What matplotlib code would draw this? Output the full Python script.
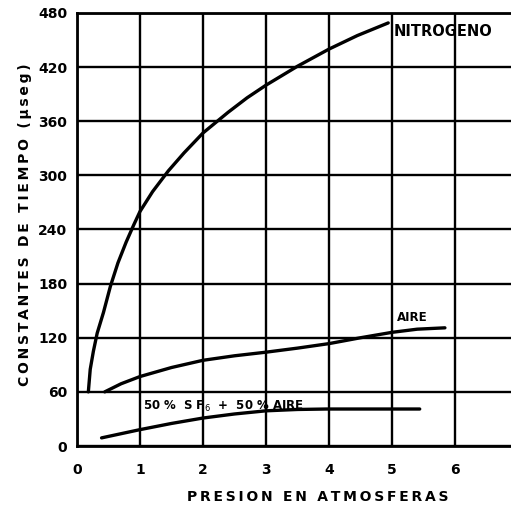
import matplotlib.pyplot as plt

# valores (presion en atm, constante de tiempo)
nitrogeno_x = [0.18, 0.21, 0.26, 0.32, 0.42, 0.53, 0.65, 0.78, 0.9, 1.0, 1.2, 1.45, 1.7, 2.0, 2.4, 2.7, 3.0, 3.5, 4.0, 4.45, 4.94]
nitrogeno_y = [60, 85, 105, 125, 148, 177, 203, 226, 245, 260, 282, 305, 325, 347, 370, 386, 400, 421, 440, 455, 469]

aire_x = [0.44, 0.7, 1.0, 1.5, 2.0, 2.5, 3.0, 3.5, 4.0, 4.5, 5.0, 5.4, 5.84]
aire_y = [60, 69, 77, 87, 95, 100, 104, 108.5, 113.5, 120, 126, 129.5, 131]

mezcla_x = [0.39, 0.99, 1.5, 2.0, 2.5, 3.0, 3.5, 3.96, 4.98, 5.44]
mezcla_y = [9, 18, 25, 31, 35.5, 39, 40.5, 41, 41, 41]

xticks = [0, 1, 2, 3, 4, 5, 6]
yticks = [0, 60, 120, 180, 240, 300, 360, 420, 480]
ytick_labels = ['0', '60', '120', '180', '240', '300', '360', '420', '480']

fig = plt.figure(figsize=(5.11, 5.11), dpi=100)
ax = fig.add_axes([77 / 511, 65 / 511, 434 / 511, 433 / 511])

ax.set_xlim(0, 434 / 63)
ax.set_ylim(0, 480)
ax.set_xticks(xticks)
ax.set_yticks(yticks)
ax.set_yticklabels(ytick_labels)
ax.grid(True, color='black', linewidth=1.7)
ax.tick_params(length=0, labelsize=10)
ax.tick_params(axis='y', pad=7)
ax.tick_params(axis='x', pad=12)
for lbl in ax.get_xticklabels() + ax.get_yticklabels():
    lbl.set_fontweight('bold')
for s in ax.spines.values():
    s.set_linewidth(2)
ax.spines['right'].set_visible(False)

ax.plot(nitrogeno_x, nitrogeno_y, color='black', linewidth=2.4, solid_capstyle='round')
ax.plot(aire_x, aire_y, color='black', linewidth=2.4, solid_capstyle='round')
ax.plot(mezcla_x, mezcla_y, color='black', linewidth=2.4, solid_capstyle='round')

ax.text(5.02, 459, 'NITROGENO', fontsize=10.5, fontweight='bold', va='center', ha='left')
ax.text(5.08, 143, 'AIRE', fontsize=8.5, fontweight='bold', va='center', ha='left')
ax.text(1.05, 44, '50 %  S F$_6$  +  50 % AIRE', fontsize=8.5, fontweight='bold', va='center', ha='left')


def espaciar(texto):
    return '\u2009'.join(texto)


fig.text(25 / 511, 1 - 225 / 511, espaciar('CONSTANTES DE TIEMPO (μseg)'),
         rotation=90, fontsize=10, fontweight='bold', ha='center', va='center')
fig.text(318 / 511, 1 - 497 / 511, espaciar('PRESION EN ATMOSFERAS'),
         fontsize=10, fontweight='bold', ha='center', va='center')

plt.savefig('out.png', dpi=100)
